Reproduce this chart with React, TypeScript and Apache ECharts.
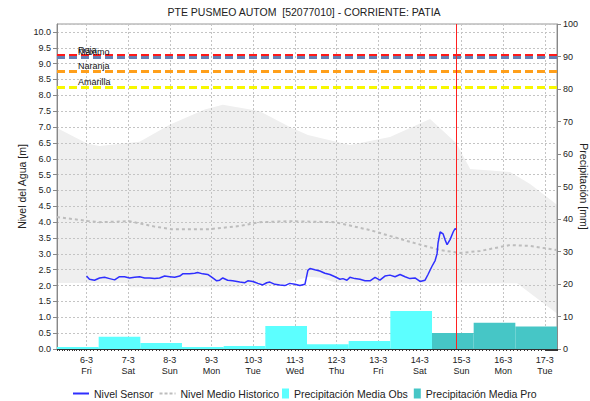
import React, { useEffect, useRef } from 'react';
import * as echarts from 'echarts';

const TITLE = 'PTE PUSMEO AUTOM  [52077010] - CORRIENTE: PATIA';
const LEFT_AXIS_NAME = 'Nivel del Agua [m]';
const RIGHT_AXIS_NAME = 'Precipitación [mm]';
const WEEKDAYS = ['Sun', 'Mon', 'Tue', 'Wed', 'Thu', 'Fri', 'Sat'];

// hours are counted from 6-3 00:00
const AXIS_START_HOUR = -17;
const AXIS_END_HOUR = 271;
const NOW_HOUR = 213;

const sensorHours = [0, 1.7, 4.6, 7.5, 10.4, 13.3, 16.2, 19.0, 21.9, 24.8, 27.7, 30.6, 33.5, 36.3, 39.2, 42.1, 45.0, 47.9, 50.8, 53.7, 55.4, 59.4, 62.3, 64.0, 66.9, 69.8, 72.7, 75.0, 76.7, 78.5, 81.3, 84.2, 88.3, 91.2, 92.9, 95.8, 98.7, 101.5, 103.8, 105.6, 108.5, 111.3, 114.2, 117.1, 120.0, 122.9, 125.8, 127.5, 128.7, 131.5, 134.4, 137.3, 140.2, 143.1, 146.0, 147.7, 150.0, 151.7, 154.6, 157.5, 160.4, 163.3, 166.2, 169.0, 171.9, 174.8, 177.7, 180.6, 183.5, 186.3, 189.2, 192.1, 195.0, 196.7, 199.0, 200.8, 201.9, 202.5, 203.7, 205.4, 206.5, 207.7, 209.4, 211.2, 212.3, 212.9];
const sensorLevels = [2.30, 2.20, 2.17, 2.24, 2.26, 2.22, 2.18, 2.28, 2.28, 2.24, 2.26, 2.28, 2.24, 2.24, 2.22, 2.24, 2.30, 2.28, 2.26, 2.30, 2.37, 2.37, 2.39, 2.41, 2.37, 2.35, 2.24, 2.15, 2.17, 2.24, 2.17, 2.15, 2.11, 2.09, 2.15, 2.13, 2.07, 2.02, 2.09, 2.11, 2.04, 2.02, 2.00, 2.07, 2.04, 2.00, 2.04, 2.48, 2.54, 2.50, 2.46, 2.39, 2.35, 2.28, 2.20, 2.22, 2.17, 2.26, 2.22, 2.20, 2.15, 2.15, 2.26, 2.17, 2.30, 2.33, 2.28, 2.35, 2.28, 2.22, 2.24, 2.13, 2.17, 2.35, 2.61, 2.79, 3.00, 3.35, 3.69, 3.63, 3.45, 3.29, 3.45, 3.69, 3.80, 3.77];

const histHours = [-17, 0.6, 7.5, 24.8, 39.2, 49, 71, 88.3, 99.8, 117.1, 143.1, 163.3, 186.3, 203.7, 215.2, 226.7, 244, 255.5, 271];
const histLevels = [4.16, 4.04, 4.0, 4.03, 3.86, 3.78, 3.78, 3.88, 4.0, 4.03, 4.0, 3.75, 3.38, 3.12, 3.03, 3.09, 3.28, 3.25, 3.12];

const bandUpperHours = [-17, 0.6, 7.5, 30.6, 47.9, 68.1, 78.5, 99.8, 117.1, 127.5, 151.7, 174.8, 197.9, 212.9, 221, 244, 255.5, 271];
const bandUpperLevels = [6.97, 6.47, 6.40, 6.54, 7.07, 7.55, 7.70, 7.50, 7.0, 6.75, 6.43, 6.69, 7.25, 6.5, 5.68, 5.58, 5.2, 4.55];
const bandLowerHours = [-17, 23, 25, 88, 90, 111, 120, 128, 135, 143, 150, 248, 271];
const bandLowerLevels = [2.08, 2.08, 1.95, 1.95, 2.03, 2.0, 2.15, 2.28, 2.25, 2.1, 2.07, 2.07, 1.12];

// precipitation per day (07:00 to 07:00 of next day), day of March
const precipDays = [5, 6, 7, 8, 9, 10, 11, 12, 13, 14, 15, 16];
const precipObs = [0.6, 3.8, 1.85, 0.6, 0.9, 7.1, 1.5, 2.5, 11.7, null, null, null];
const precipPro = [null, null, null, null, null, null, null, null, null, 4.9, 8.1, 6.9];

const thresholdNames = ['Roja', 'Máximo', 'Naranja', 'Amarilla'];
const thresholdValues = [9.25, 9.19, 8.75, 8.26];
const thresholdColors = ['#ff1a1a', '#6680b3', '#ff9f1a', '#f7f700'];

const FONT = '"Liberation Sans", Arial, sans-serif';
const hourToTime = (h: number) => Date.UTC(2026, 2, 6, 0) + h * 3600 * 1000;
const dayTime = (d: number, hour: number) => Date.UTC(2026, 2, d, hour);

const SOLID_ICON = 'path://M0,0h16v2h-16z';
const DASH_ICON = 'path://M0,0h3v2h-3z M5,0h3v2h-3z M10,0h3v2h-3z M15,0h1v2h-1z';

export default function App() {
  const ref = useRef<HTMLDivElement>(null);
  useEffect(() => {
    if (!ref.current) return;
    const chart = echarts.init(ref.current, undefined, { renderer: 'svg' });

    const precipSeries = (name: string, values: (number | null)[], color: string) => ({
      type: 'custom',
      name,
      xAxisIndex: 0,
      yAxisIndex: 1,
      z: 3,
      itemStyle: { color },
      encode: { x: [0, 1], y: 2 },
      data: precipDays
        .map((d, i) => (values[i] == null ? null : [dayTime(d, 7), dayTime(d + 1, 7), values[i]]))
        .filter((x) => x != null),
      renderItem: (params: any, api: any) => {
        const p0 = api.coord([api.value(0), api.value(2)]);
        const p1 = api.coord([api.value(1), 0]);
        return {
          type: 'rect',
          shape: { x: p0[0], y: p0[1], width: p1[0] - p0[0], height: p1[1] - p0[1] },
          style: { fill: color },
        };
      },
    });

    const option: any = {
      animation: false,
      useUTC: true,
      backgroundColor: '#ffffff',
      textStyle: { fontFamily: FONT },
      graphic: [
        {
          type: 'text',
          x: 304,
          y: 12,
          style: { text: TITLE, fontSize: 10.5, fontFamily: FONT, fill: '#222', textAlign: 'center', textVerticalAlign: 'middle' },
        },
        {
          type: 'text',
          x: 22,
          y: 186.5,
          rotation: Math.PI / 2,
          style: { text: LEFT_AXIS_NAME, fontSize: 10.5, fontFamily: FONT, fill: '#222', textAlign: 'center', textVerticalAlign: 'middle' },
        },
        {
          type: 'text',
          x: 584,
          y: 186.5,
          rotation: -Math.PI / 2,
          style: { text: RIGHT_AXIS_NAME, fontSize: 10.5, fontFamily: FONT, fill: '#222', textAlign: 'center', textVerticalAlign: 'middle' },
        },
      ],
      grid: {
        left: 57,
        right: 33,
        top: 24,
        bottom: 52,
        show: true,
        borderColor: '#999',
        borderWidth: 1,
        containLabel: false,
        outerBoundsMode: 'none',
      },
      legend: [
        {
          data: [
            { name: 'Nivel Sensor', icon: SOLID_ICON },
            { name: 'Nivel Medio Historico', icon: DASH_ICON },
          ],
          left: 73,
          top: 388,
          padding: 0,
          itemWidth: 16,
          itemHeight: 2,
          itemGap: 6,
          textStyle: { fontSize: 10.5, color: '#222', fontFamily: FONT },
          selectedMode: false,
        },
        {
          data: [
            { name: 'Precipitación Media Obs', icon: 'rect' },
            { name: 'Precipitación Media Pro', icon: 'rect' },
          ],
          left: 282,
          top: 388,
          padding: 0,
          itemWidth: 7,
          itemHeight: 10,
          itemGap: 6,
          textStyle: { fontSize: 10.5, color: '#222', fontFamily: FONT },
          selectedMode: false,
        },
      ],
      xAxis: {
        type: 'time',
        min: hourToTime(AXIS_START_HOUR),
        max: hourToTime(AXIS_END_HOUR),
        minInterval: 24 * 3600 * 1000,
        maxInterval: 24 * 3600 * 1000,
        axisLine: { show: true, lineStyle: { color: '#333', width: 1 } },
        axisTick: { show: true, length: 2, lineStyle: { color: '#333' } },
        minorTick: { show: true, splitNumber: 12, length: 2, lineStyle: { color: '#333' } },
        splitLine: { show: true, lineStyle: { color: '#c4c4c4', type: [2, 2], width: 1 } },
        axisLabel: {
          showMinLabel: false,
          showMaxLabel: false,
          fontSize: 9,
          lineHeight: 11,
          color: '#222',
          margin: 5,
          fontFamily: FONT,
          formatter: (v: number) => {
            const d = new Date(v);
            return `${d.getUTCDate()}-${d.getUTCMonth() + 1}\n${WEEKDAYS[d.getUTCDay()]}`;
          },
        },
      },
      yAxis: [
        {
          type: 'value',
          min: 0,
          max: 10.25,
          interval: 0.5,
          position: 'left',
          axisLine: { show: true, lineStyle: { color: '#888' } },
          axisTick: { show: true, length: 4, lineStyle: { color: '#888' } },
          splitLine: { show: true, lineStyle: { color: '#c4c4c4', type: [2, 2], width: 1 } },
          axisLabel: {
            showMaxLabel: false,
            fontSize: 9,
            color: '#222',
            margin: 6,
            fontFamily: FONT,
            formatter: (v: number) => v.toFixed(1),
          },
        },
        {
          type: 'value',
          min: 0,
          max: 100,
          interval: 10,
          position: 'right',
          axisLine: { show: true, lineStyle: { color: '#888' } },
          axisTick: { show: true, length: 4, lineStyle: { color: '#888' } },
          splitLine: { show: false },
          axisLabel: { fontSize: 9, color: '#222', margin: 6, fontFamily: FONT },
        },
      ],
      series: [
        {
          type: 'custom',
          name: 'band',
          xAxisIndex: 0,
          yAxisIndex: 0,
          z: -1,
          silent: true,
          data: [[hourToTime(AXIS_START_HOUR), 0]],
          renderItem: (params: any, api: any) => {
            const up = bandUpperHours.map((h, i) => api.coord([hourToTime(h), bandUpperLevels[i]]));
            const lo = bandLowerHours.map((h, i) => api.coord([hourToTime(h), bandLowerLevels[i]])).reverse();
            return { type: 'polygon', shape: { points: up.concat(lo) }, style: { fill: '#efefef' } };
          },
        },
        precipSeries('Precipitación Media Obs', precipObs, '#5cffff'),
        precipSeries('Precipitación Media Pro', precipPro, '#46c6c6'),
        {
          type: 'line',
          name: 'Nivel Medio Historico',
          xAxisIndex: 0,
          yAxisIndex: 0,
          z: 4,
          symbol: 'none',
          showSymbol: false,
          itemStyle: { color: '#bdbdbd' },
          lineStyle: { color: '#bdbdbd', width: 2, type: [3, 3] },
          data: histHours.map((h, i) => [hourToTime(h), histLevels[i]]),
        },
        {
          type: 'line',
          name: 'Nivel Sensor',
          xAxisIndex: 0,
          yAxisIndex: 0,
          z: 5,
          symbol: 'none',
          showSymbol: false,
          itemStyle: { color: '#2f2fff' },
          lineStyle: { color: '#2f2fff', width: 1.5 },
          data: sensorHours.map((h, i) => [hourToTime(h), sensorLevels[i]]),
          markLine: {
            silent: true,
            symbol: ['none', 'none'],
            data: [
              ...thresholdNames.map((n, i) => ({
                yAxis: thresholdValues[i],
                lineStyle: { color: thresholdColors[i], width: 3, type: [8, 4] },
                label: {
                  show: true,
                  formatter: n,
                  position: 'insideStartTop',
                  distance: [21, 1],
                  color: '#111',
                  fontSize: 9,
                  fontFamily: FONT,
                },
              })),
              {
                xAxis: hourToTime(NOW_HOUR),
                lineStyle: { color: '#ff2020', width: 1, type: 'solid' },
                label: { show: false },
              },
            ],
          },
        },
      ],
    };
    chart.setOption(option);
    return () => chart.dispose();
  }, []);
  return <div ref={ref} style={{ position: 'absolute', left: 0, top: 0, width: 590, height: 401 }} />;
}
